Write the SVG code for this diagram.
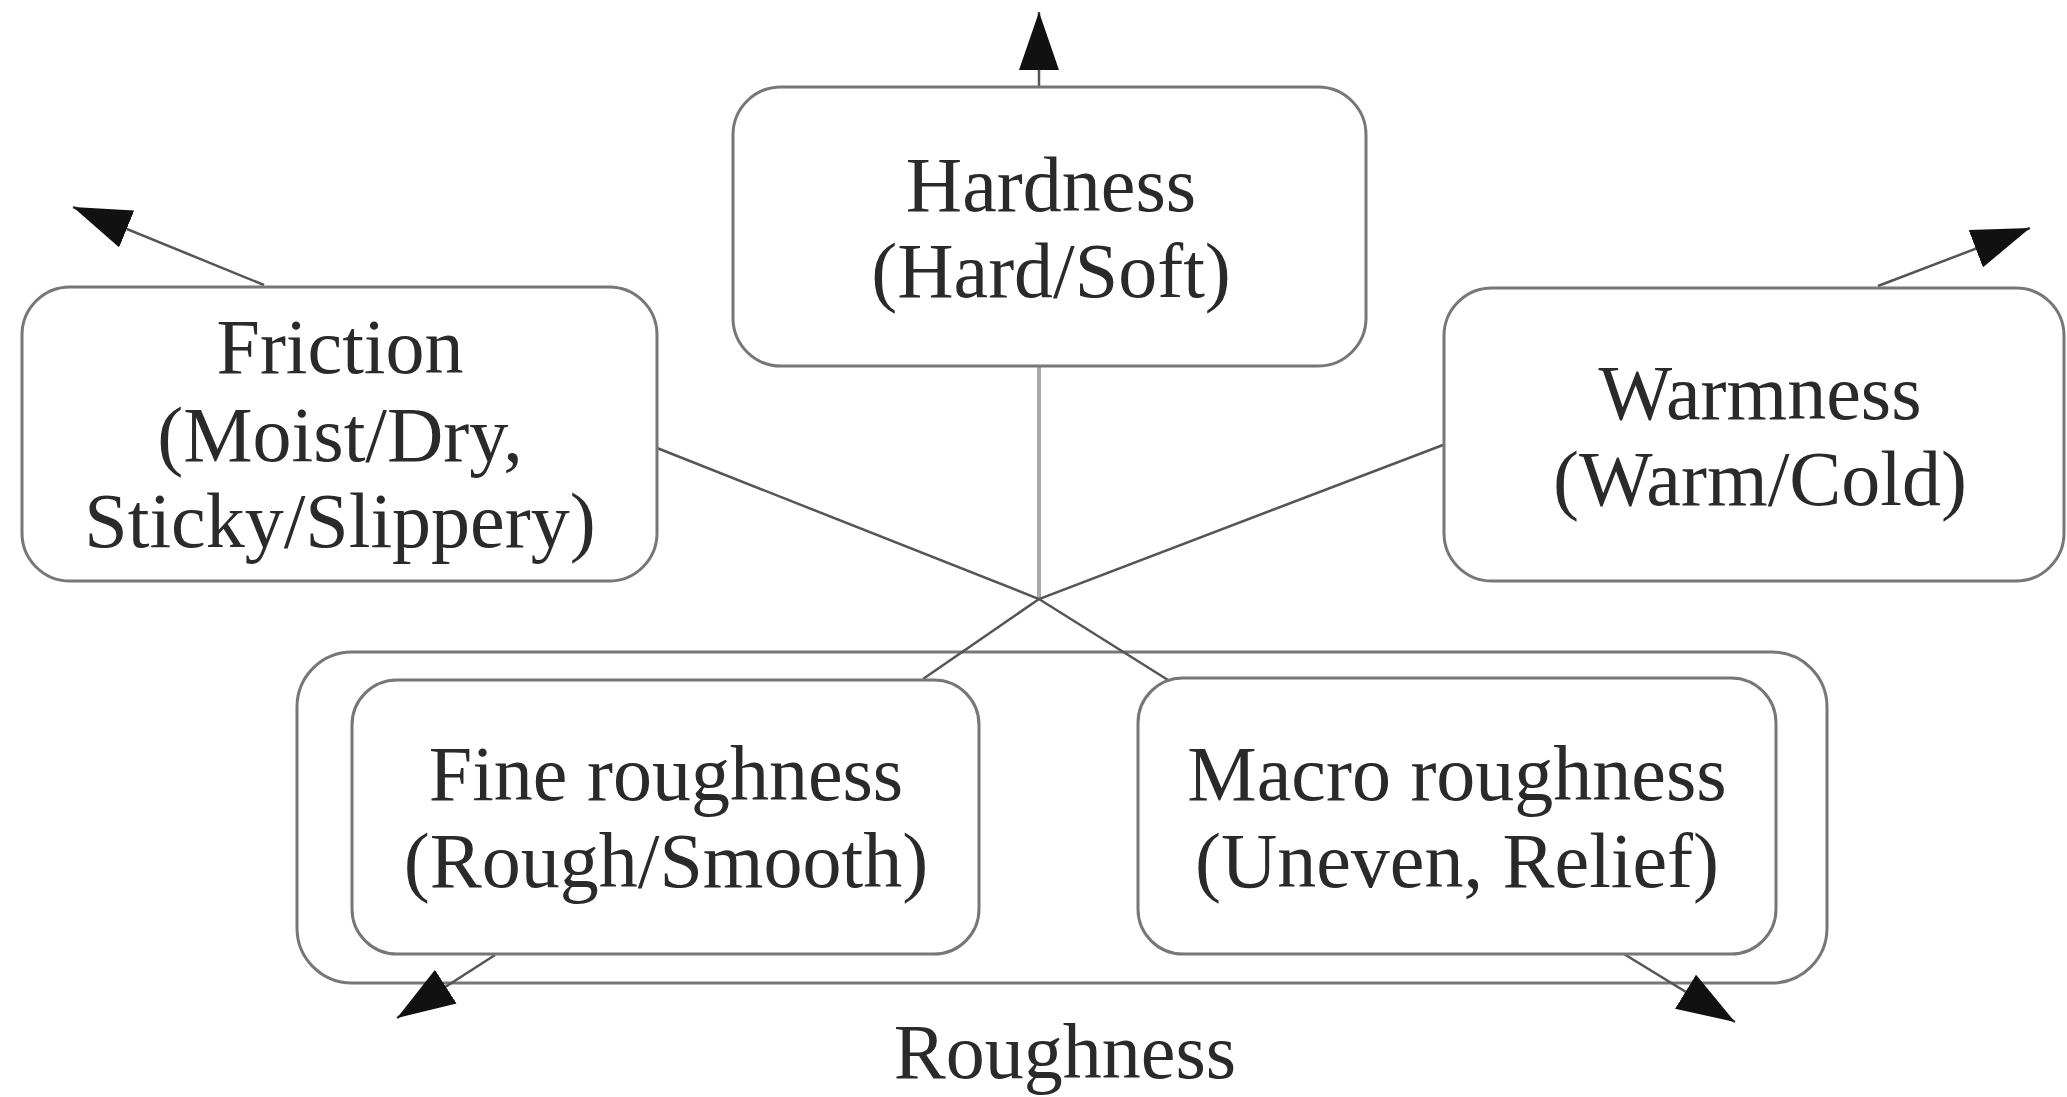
<svg xmlns="http://www.w3.org/2000/svg" width="2067" height="1097" viewBox="0 0 2067 1097">
<style>
.box{fill:#fff;stroke:#777;stroke-width:3}
.lbl{font-family:"Liberation Serif","Times New Roman",serif;font-size:78px;fill:#2a2a2a;text-anchor:middle}
.con{fill:none;stroke:#555;stroke-width:2.5}
.arr{fill:none;stroke:#555;stroke-width:2.5;marker-end:url(#ah)}
</style>
<defs>
<marker id="ah" markerUnits="userSpaceOnUse" markerWidth="60" markerHeight="40" refX="58" refY="20" orient="auto" viewBox="0 0 60 40">
<path d="M0,0 L58,20 L0,40 Z" fill="#111"/>
</marker>
</defs>
<rect width="2067" height="1097" fill="#fff"/>
<g id="roughness">
<rect class="box" x="297" y="652" width="1530" height="331" rx="55"/>
<text class="lbl" x="1065" y="1078">Roughness</text>
</g>
<g id="connectors">
<line class="arr" x1="1039" y1="87" x2="1039" y2="12"/>
<line class="arr" x1="264" y1="285" x2="73" y2="207"/>
<line class="arr" x1="1878" y1="286" x2="2030" y2="228"/>
<line class="arr" x1="495" y1="955" x2="397" y2="1018"/>
<line class="arr" x1="1624" y1="954" x2="1735" y2="1022"/>
<line x1="1039" y1="366" x2="1039" y2="599" stroke="#aaa" stroke-width="4"/>
<polyline class="con" points="657,448 1039,599 1168,680"/>
<polyline class="con" points="1443,445 1039,599 923,679"/>
</g>
<g id="hardness">
<rect class="box" x="733" y="87" width="633" height="279" rx="48"/>
<text class="lbl" x="1051" y="211">Hardness</text>
<text class="lbl" x="1051" y="297">(Hard/Soft)</text>
</g>
<g id="friction">
<rect class="box" x="22" y="287" width="635" height="294" rx="48"/>
<text class="lbl" x="340" y="373">Friction</text>
<text class="lbl" x="340" y="461">(Moist/Dry,</text>
<text class="lbl" x="340" y="547">Sticky/Slippery)</text>
</g>
<g id="warmness">
<rect class="box" x="1444" y="288" width="620" height="293" rx="48"/>
<text class="lbl" x="1760" y="419">Warmness</text>
<text class="lbl" x="1760" y="505">(Warm/Cold)</text>
</g>
<g id="fine">
<rect class="box" x="352" y="680" width="627" height="274" rx="45"/>
<text class="lbl" x="666" y="800">Fine roughness</text>
<text class="lbl" x="666" y="887">(Rough/Smooth)</text>
</g>
<g id="macro">
<rect class="box" x="1138" y="678" width="638" height="276" rx="45"/>
<text class="lbl" x="1457" y="800">Macro roughness</text>
<text class="lbl" x="1457" y="887">(Uneven, Relief)</text>
</g>
</svg>
